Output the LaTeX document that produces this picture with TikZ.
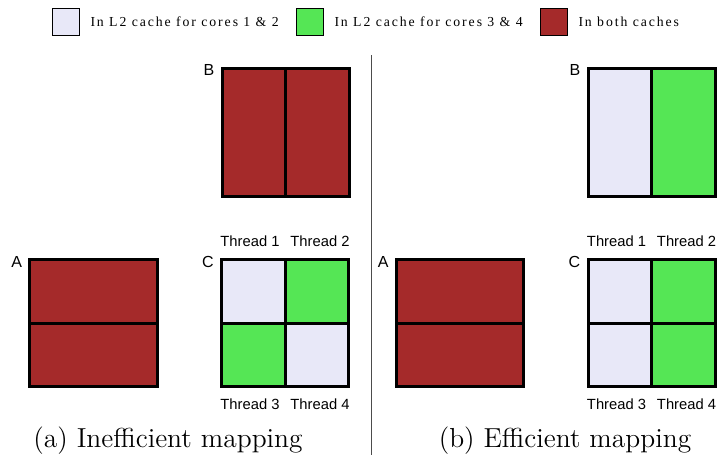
\documentclass[tikz,border=0pt]{standalone}
\usepackage{fontspec}
\setsansfont{Liberation Sans}
\newfontfamily\legendfont[LetterSpace=14]{Liberation Serif}
\usepackage{tikz}
\usetikzlibrary{positioning}

\definecolor{bothred}{HTML}{A52A2A}
\definecolor{lowgreen}{HTML}{55E655}
\definecolor{uplav}{HTML}{E8E8F8}

\begin{document}
\begin{tikzpicture}[x=0.4pt,y=-0.4pt,node distance=0pt,
  cell/.style={draw,line width=1.2pt,outer sep=0pt,inner sep=0pt},
  wide/.style={cell,minimum width=50.8pt,minimum height=25.4pt},
  tall/.style={cell,minimum width=25.4pt,minimum height=51.2pt},
  quad/.style={cell,minimum width=25.4pt,minimum height=25.4pt},
  key/.style={draw,line width=0.5pt,minimum size=11pt,inner sep=0pt},
  keytext/.style={font=\legendfont\fontsize{5.5}{6}\selectfont,anchor=west,inner sep=0pt},
  mat/.style={font=\sffamily\fontsize{6.4}{7}\selectfont,anchor=north east,inner sep=0pt},
  thread/.style={font=\sffamily\fontsize{5.9}{7}\selectfont,inner sep=0pt},
  caption/.style={font=\fontsize{11}{13}\selectfont}]
  \useasboundingbox (0,0) rectangle (720,455);

  % legend
  \node[key,fill=uplav] (k1) at (66,22) {};
  \node[keytext] (t1) at (90,22) {In L2 cache for cores 1 \& 2};
  \node[key,fill=lowgreen] (k2) at (310,22) {};
  \node[keytext] (t2) at (334,22) {In L2 cache for cores 3 \& 4};
  \node[key,fill=bothred] (k3) at (554,22) {};
  \node[keytext] (t3) at (578,22) {In both caches};

  \draw[gray!60!black,line width=0.4pt] (371,55) -- (371,455);

  % (a) inefficient
  \node[wide,fill=bothred] (aA1) at (93.5,291.5) {};
  \node[wide,fill=bothred] (aA2) [below=of aA1] {};
  \node[tall,fill=bothred] (aB1) at (254,132) {};
  \node[tall,fill=bothred] (aB2) [right=of aB1] {};
  \node[quad,fill=uplav] (aC11) at (253.5,291.5) {};
  \node[quad,fill=lowgreen] (aC12) [right=of aC11] {};
  \node[quad,fill=lowgreen] (aC21) [below=of aC11] {};
  \node[quad,fill=uplav] (aC22) [right=of aC21] {};
  \node[mat] (aA) [left=3pt of aA1.north west,yshift=-0.8pt] {A};
  \node[mat] (aB) [left=3pt of aB1.north west,yshift=-0.8pt] {B};
  \node[mat] (aC) [left=3pt of aC11.north west,yshift=-0.8pt] {C};
  \node[thread] (at1) [above=5pt of aC11,xshift=-1.4pt] {Thread 1};
  \node[thread] (at2) [above=5pt of aC12,xshift=1.2pt] {Thread 2};
  \node[thread] (at3) [below=4.5pt of aC21,xshift=-1.4pt] {Thread 3};
  \node[thread] (at4) [below=4.5pt of aC22,xshift=1.2pt] {Thread 4};
  \node[caption] (capa) at (168,441) {(a) Inefficient mapping};

  % (b) efficient
  \node[wide,fill=bothred] (bA1) at (460,291.5) {};
  \node[wide,fill=bothred] (bA2) [below=of bA1] {};
  \node[tall,fill=uplav] (bB1) at (620,132) {};
  \node[tall,fill=lowgreen] (bB2) [right=of bB1] {};
  \node[quad,fill=uplav] (bC11) at (620,291.5) {};
  \node[quad,fill=lowgreen] (bC12) [right=of bC11] {};
  \node[quad,fill=uplav] (bC21) [below=of bC11] {};
  \node[quad,fill=lowgreen] (bC22) [right=of bC21] {};
  \node[mat] (bA) [left=3pt of bA1.north west,yshift=-0.8pt] {A};
  \node[mat] (bB) [left=3pt of bB1.north west,yshift=-0.8pt] {B};
  \node[mat] (bC) [left=3pt of bC11.north west,yshift=-0.8pt] {C};
  \node[thread] (bt1) [above=5pt of bC11,xshift=-1.4pt] {Thread 1};
  \node[thread] (bt2) [above=5pt of bC12,xshift=1.2pt] {Thread 2};
  \node[thread] (bt3) [below=4.5pt of bC21,xshift=-1.4pt] {Thread 3};
  \node[thread] (bt4) [below=4.5pt of bC22,xshift=1.2pt] {Thread 4};
  \node[caption] (capb) at (565,441) {(b) Efficient mapping};
\end{tikzpicture}
\end{document}
